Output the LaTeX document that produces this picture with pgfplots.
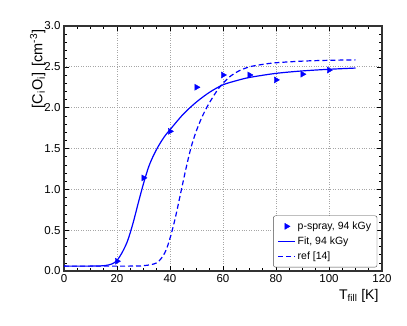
\documentclass[border=0pt]{standalone}
\usepackage{pgfplots}
\pgfplotsset{compat=1.18}
\usetikzlibrary{calc}
\usepackage{fontspec}
\setmainfont{Liberation Sans}

\begin{document}
\begin{tikzpicture}
  \begin{axis}[
      scale only axis,
      width=318pt, height=245pt,
      xmin=0, xmax=120, ymin=0, ymax=3.0,
      xtick={0,20,...,120},
      ytick={0,0.5,...,3.0},
      minor x tick num=3,
      minor y tick num=4,
      tick align=inside,
      major tick length=5pt, minor tick length=3pt,
      tick style={black, line width=0.6pt},
      axis line style={draw=black!80, line width=1.4pt},
      grid=major,
      major grid style={gray!70, dotted, line width=0.7pt},
      font=\fontsize{11.5}{12}\selectfont,
      /pgf/number format/assume math mode=true,
      yticklabel style={/pgf/number format/fixed, /pgf/number format/fixed zerofill, /pgf/number format/precision=1},
      scaled y ticks=false,
      xlabel={T\textsubscript{fill} [K]},
      xlabel style={at={(rel axis cs:1,0)}, anchor=north east, yshift=-15pt, font=\fontsize{14}{15}\selectfont},
      ylabel={[C\textsubscript{i}O\textsubscript{i}]\, [cm\textsuperscript{-3}]},
      ylabel style={at={(rel axis cs:0,1)}, anchor=south east, yshift=15pt, font=\fontsize{14.5}{15}\selectfont},
      legend style={at={(rel axis cs:0.985,0.015)}, anchor=south east,
        draw=black!70, rounded corners=2pt, font=\fontsize{10.5}{12}\selectfont,
        row sep=2pt, inner sep=4pt},
      legend cell align=left,
    ]
    \addplot[only marks, blue, mark=triangle*, mark options={rotate=-90}, mark size=3.5pt] coordinates {
      (20,0.12) (30,1.14) (40,1.71) (50,2.25) (60,2.40)
      (70,2.40) (80,2.34) (90,2.41) (100,2.46)
    };
    \addlegendentry{p-spray, 94 kGy}
    \addplot[blue, line width=1.2pt, smooth] coordinates {
      (0,0.06) (10,0.06) (15,0.065) (18,0.085) (20,0.13) (22,0.23)
      (24,0.37) (26,0.58) (28,0.83) (30,1.07) (32,1.28) (34,1.43)
      (36,1.55) (38,1.65) (40,1.73) (45,1.92) (50,2.07) (55,2.19)
      (60,2.28) (65,2.33) (70,2.37) (80,2.42) (90,2.45) (100,2.47) (110,2.485)
    };
    \addlegendentry{Fit, 94 kGy}
    \addplot[blue, line width=1.2pt, dash pattern=on 5pt off 3pt, smooth] coordinates {
      (0,0.06) (25,0.06) (30,0.065) (35,0.10) (38,0.22) (40,0.40)
      (42,0.65) (44,0.95) (46,1.25) (48,1.52) (50,1.72) (52,1.88)
      (54,2.01) (56,2.12) (58,2.22) (60,2.30) (63,2.39) (66,2.45)
      (70,2.50) (75,2.53) (80,2.55) (90,2.57) (100,2.58) (110,2.585)
    };
    \addlegendentry{ref [14]}
    \node[anchor=south west, font=\fontsize{10.5}{11}\selectfont, inner sep=1pt] at (rel axis cs:0.02,1) {1e12};
    \coordinate (ll) at (rel axis cs:0,0);
    \coordinate (ur) at (rel axis cs:1,1);
  \end{axis}
  \pgfresetboundingbox
  \path[use as bounding box] ($(ll)+(-64pt,-55pt)$) rectangle ($(ur)+(25pt,26pt)$);
\end{tikzpicture}
\end{document}
